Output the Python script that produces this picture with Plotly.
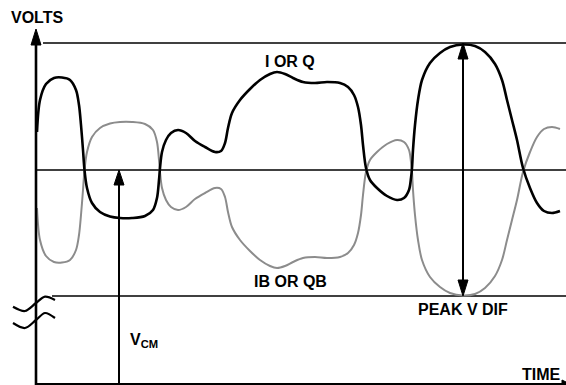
import plotly.graph_objects as go

# Time samples (arbitrary units) and the two complementary outputs,
# expressed in volts relative to the common-mode level V_CM.
t = [37, 40, 46, 54, 62, 70, 76, 79, 81, 83, 84.5, 87, 92, 100, 110, 120, 132, 145, 153, 157,
     159, 160, 162, 166, 171, 178, 186, 195, 205, 215, 221, 225, 228, 232, 240, 250, 260, 270, 277, 285,
     293, 303, 315, 327, 340, 348, 354, 358, 361, 363, 366, 370, 377, 387, 397, 404, 409, 411, 412, 413,
     415, 418, 422, 430, 440, 450, 463, 475, 485, 495, 502, 507, 512, 517, 523, 530, 537, 544, 552, 560]

i_or_q = [38, 70, 86, 92, 92.5, 90, 80, 65, 45, 20, 0, -18, -33, -42, -46.5, -48, -48, -46, -40, -28,
          -10, 2, 18, 30, 37, 40, 37, 29, 23, 18, 19, 27, 42, 57, 70, 81, 90, 96, 98, 96,
          92, 88, 87, 88, 87, 83, 75, 63, 45, 25, 2, -10, -18, -26, -30, -28, -20, -8, 2, 20,
          45, 70, 90, 107, 117, 123, 125.5, 124, 118, 106, 90, 70, 50, 30, 2, -18, -33, -41, -43, -41]

ib_or_qb = [-38, -70, -86, -92, -92.5, -90, -80, -65, -45, -20, 0, 18, 33, 42, 46.5, 48, 48, 46, 40, 28,
            10, -2, -18, -30, -37, -40, -37, -29, -23, -18, -19, -27, -42, -57, -70, -81, -90, -96, -98, -96,
            -92, -88, -87, -88, -87, -83, -75, -63, -45, -25, -2, 10, 18, 26, 30, 28, 20, 8, -2, -20,
            -45, -70, -90, -107, -117, -123, -125.5, -124, -118, -106, -90, -70, -50, -30, -2, 18, 33, 41, 43, 41]

V_CM = 0          # common-mode level
V_HIGH = 127      # upper extreme of the swing
V_LOW = -126      # lower extreme of the swing
V_AXIS = -214     # where the time axis sits (axis is broken below the swing)
T_AXIS = 36       # where the volts axis sits
T_VCM = 119       # time at which V_CM is marked
T_PEAK = 463      # time at which the peak differential voltage is marked

# break marks on the volts axis
brk_t = [13, 25, 36, 45, 55]
brk1_v = [-136.7, -141, -133, -126.7, -130]
brk2_v = [-153, -158, -150, -143, -148]

BLACK = "#000000"
GREY = "#8c8c8c"
FONT = "Liberation Sans, Arial, sans-serif"

fig = go.Figure()


def line(x, y, width, color=BLACK, shape="linear"):
    fig.add_trace(go.Scatter(x=x, y=y, mode="lines", hoverinfo="skip",
                             line=dict(color=color, width=width, shape=shape, smoothing=0.9)))


def head(x_tip, y_tip, dx, dy, length, width):
    # filled triangular arrow head pointing along (dx, dy)
    bx, by = x_tip - dx * length, y_tip - dy * length
    px, py = -dy * width / 2, dx * width / 2
    fig.add_trace(go.Scatter(x=[x_tip, bx + px, bx - px, x_tip], y=[y_tip, by + py, by - py, y_tip],
                             mode="lines", fill="toself", fillcolor=BLACK, hoverinfo="skip",
                             line=dict(color=BLACK, width=1)))


# reference levels
line([43, 566], [V_HIGH, V_HIGH], 1.4)
line([T_AXIS, 566], [V_CM, V_CM], 1.4)
line([52, 566], [V_LOW, V_LOW], 1.4)

# complementary outputs
line(t, ib_or_qb, 2.0, GREY, "spline")
line(t, i_or_q, 2.6, BLACK, "spline")

# axes
line([T_AXIS, T_AXIS], [V_AXIS - 3, 141 - 10], 2.6)
head(T_AXIS, 141, 0, 1, 16, 10)
line([T_AXIS, 563], [V_AXIS, V_AXIS], 1.8)
head(570, V_AXIS, 1, 0, 8, 8)

# axis break marks
line(brk_t, brk1_v, 2.2, BLACK, "spline")
line(brk_t, brk2_v, 2.2, BLACK, "spline")

# V_CM marker
line([T_VCM, T_VCM], [V_AXIS, V_CM - 10], 2.0)
head(T_VCM, V_CM, 0, 1, 15, 10)

# peak differential voltage marker
line([T_PEAK, T_PEAK], [V_LOW + 10, V_HIGH - 10], 2.0)
head(T_PEAK, V_HIGH, 0, 1, 16, 10)
head(T_PEAK, V_LOW, 0, -1, 16, 10)

labels = [
    ("VOLTS", 36.5, 153, "center"),
    ("I OR Q", 290, 109, "center"),
    ("IB OR QB", 290, -111, "center"),
    ("PEAK V DIF", 463, -139, "center"),
    ("TIME", 541, -204, "center"),
]
for text, x, y, anchor in labels:
    fig.add_annotation(x=x, y=y, text="<b>" + text + "</b>", showarrow=False, xanchor=anchor,
                       yanchor="middle", font=dict(family=FONT, size=16, color=BLACK))
fig.add_annotation(x=128, y=-170, text="<b>V<sub>CM</sub></b>", showarrow=False, xanchor="left",
                   yanchor="middle", font=dict(family=FONT, size=16, color=BLACK))

fig.update_layout(
    width=566, height=385, autosize=False,
    margin=dict(l=0, r=0, t=0, b=0, pad=0),
    paper_bgcolor="white", plot_bgcolor="white",
    showlegend=False,
    xaxis=dict(range=[0, 566], visible=False, fixedrange=True),
    yaxis=dict(range=[-215, 170], visible=False, fixedrange=True),
)

fig.write_html("out.html")
